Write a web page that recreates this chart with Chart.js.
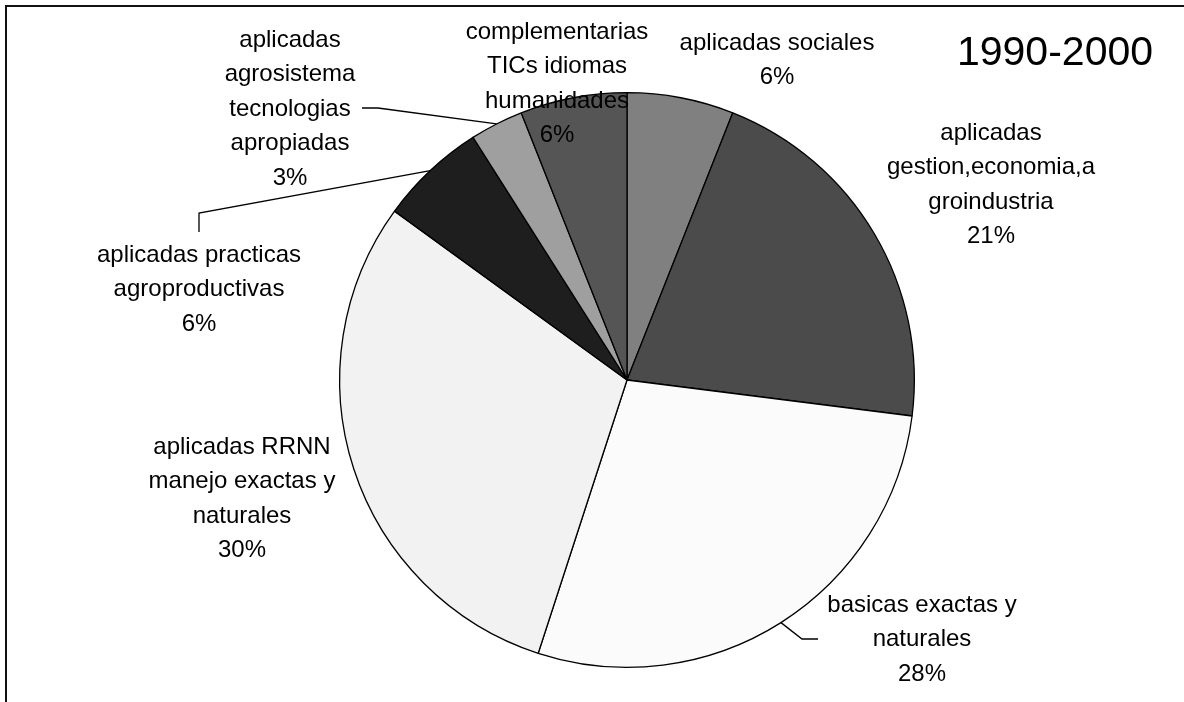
<!DOCTYPE html>
<html>
<head>
<meta charset="utf-8">
<title>1990-2000</title>
<script src="https://cdn.jsdelivr.net/npm/chart.js@4"></script>
<style>
  html, body { margin: 0; padding: 0; background: #fff; }
  #wrap { width: 1184px; height: 702px; position: relative; }
</style>
</head>
<body>
<div id="wrap"><canvas id="pie" width="1184" height="702"></canvas></div>
<script>
// data
const categories = [
  ['aplicadas sociales'],
  ['aplicadas', 'gestion,economia,a', 'groindustria'],
  ['basicas exactas y', 'naturales'],
  ['aplicadas RRNN', 'manejo exactas y', 'naturales'],
  ['aplicadas practicas', 'agroproductivas'],
  ['aplicadas', 'agrosistema', 'tecnologias', 'apropiadas'],
  ['complementarias', 'TICs idiomas', 'humanidades']
];
const shares = [6, 21, 28, 30, 6, 3, 6];
const periodTitle = '1990-2000';

const sliceColors = ['#808080', '#4b4b4b', '#fbfbfb', '#f2f2f2', '#1e1e1e', '#9f9f9f', '#555555'];

// label block placement, offsets from the pie centre (first line centre)
const labelLayout = [
  { dx: 150, dy: -337 },
  { dx: 364, dy: -247 },
  { dx: 295, dy: 225 },
  { dx: -385, dy: 67 },
  { dx: -428, dy: -125 },
  { dx: -337, dy: -340 },
  { dx: -70, dy: -348 }
];
// leader lines: [elbow, end] offsets from the pie centre; null = no line
const leaders = [
  null,
  null,
  [{ dx: 175, dy: 259 }, { dx: 191, dy: 259 }],
  null,
  [{ dx: -428, dy: -167 }, { dx: -428, dy: -148 }],
  [{ dx: -249, dy: -272 }, { dx: -265, dy: -272 }],
  null
];

const FONT = '24px "Liberation Sans", Arial, sans-serif';
const LINE_H = 34.5;

const labelPlugin = {
  id: 'sliceLabels',
  beforeDraw(chart) {
    const ctx = chart.ctx;
    ctx.save();
    ctx.fillStyle = '#fff';
    ctx.fillRect(0, 0, chart.width, chart.height);
    // frame edges (top and left visible)
    ctx.fillStyle = '#111';
    ctx.fillRect(5, 5, chart.width - 5, 2);
    ctx.fillRect(5, 5, 2, chart.height - 5);
    ctx.restore();
  },
  afterDatasetsDraw(chart) {
    const ctx = chart.ctx;
    const arcs = chart.getDatasetMeta(0).data;
    ctx.save();
    ctx.strokeStyle = '#000';
    ctx.lineWidth = 1.3;
    arcs.forEach((arc, i) => {
      const lead = leaders[i];
      if (!lead) return;
      const mid = (arc.startAngle + arc.endAngle) / 2;
      const ex = arc.x + Math.cos(mid) * arc.outerRadius;
      const ey = arc.y + Math.sin(mid) * arc.outerRadius;
      ctx.beginPath();
      ctx.moveTo(ex, ey);
      ctx.lineTo(arc.x + lead[0].dx, arc.y + lead[0].dy);
      ctx.lineTo(arc.x + lead[1].dx, arc.y + lead[1].dy);
      ctx.stroke();
    });
    ctx.font = FONT;
    ctx.fillStyle = '#000';
    ctx.textAlign = 'center';
    ctx.textBaseline = 'middle';
    arcs.forEach((arc, i) => {
      const lines = categories[i].concat([shares[i] + '%']);
      const pos = labelLayout[i];
      lines.forEach((t, k) => {
        ctx.fillText(t, arc.x + pos.dx, arc.y + pos.dy + k * LINE_H);
      });
    });
    ctx.font = '41px "Liberation Sans", Arial, sans-serif';
    ctx.fillText(periodTitle, 1055, 54);
    ctx.restore();
  }
};

new Chart(document.getElementById('pie'), {
  type: 'pie',
  data: {
    labels: categories.map(c => c.join(' ')),
    datasets: [{
      data: shares,
      backgroundColor: sliceColors,
      borderColor: '#000',
      borderWidth: 1.3,
      borderAlign: 'center'
    }]
  },
  options: {
    responsive: false,
    animation: false,
    devicePixelRatio: 1,
    layout: { padding: { left: 339, right: 269, top: 92, bottom: 34 } },
    plugins: {
      legend: { display: false },
      tooltip: { enabled: false }
    }
  },
  plugins: [labelPlugin]
});
</script>
</body>
</html>
